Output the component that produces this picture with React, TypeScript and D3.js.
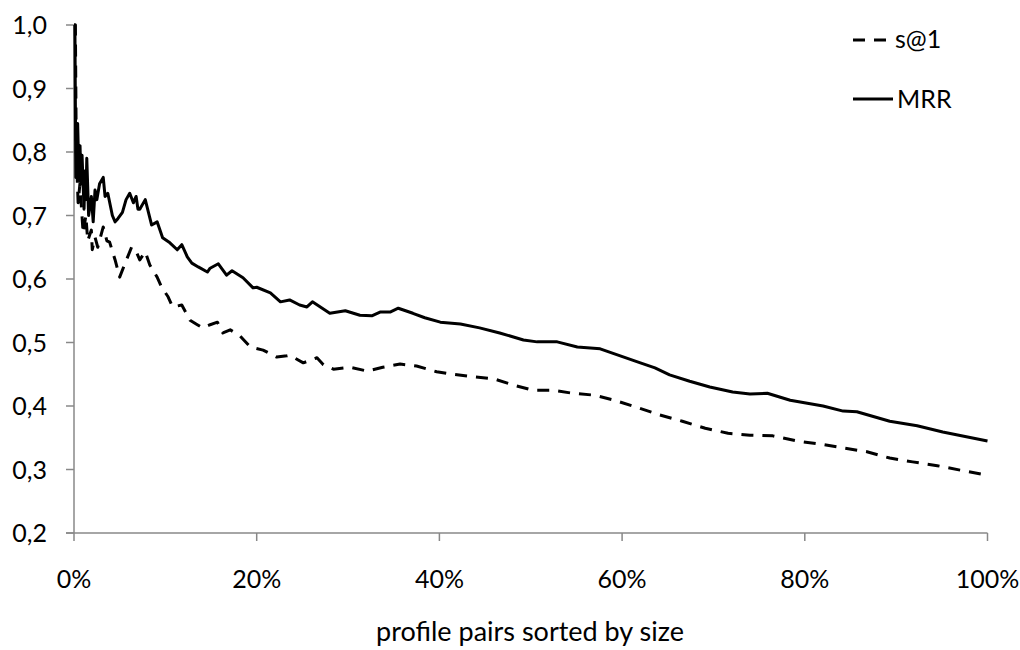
import React from "react";
import * as d3 from "d3";

const mrrX = [0, 0.1, 0.2, 0.4, 0.55, 0.66, 0.77, 0.88, 1.1, 1.2, 1.3, 1.4, 1.6, 1.9, 2.1, 2.3, 2.5, 2.8, 3.2, 3.4, 3.7, 4.2, 4.5, 4.8, 5.3, 5.7, 6.1, 6.5, 6.8, 7.0, 7.2, 7.8, 8.5, 9.1, 9.7, 10.5, 11.3, 11.8, 12.4, 12.9, 13.6, 14.6, 14.9, 15.8, 16.7, 17.3, 18.5, 19.6, 20.0, 21.5, 22.6, 23.6, 24.7, 25.5, 26.1, 28.0, 29.7, 31.3, 32.6, 33.5, 34.6, 35.5, 37.1, 38.4, 40.1, 42.3, 44.4, 46.6, 49.2, 50.7, 52.9, 55.1, 57.6, 59.8, 62.0, 63.6, 65.2, 67.4, 69.6, 72.1, 74.0, 75.9, 78.4, 82.0, 84.2, 85.7, 89.3, 92.3, 95.1, 100];
const mrrY = [1.0, 1.0, 0.76, 0.845, 0.755, 0.81, 0.75, 0.795, 0.71, 0.77, 0.725, 0.79, 0.70, 0.73, 0.69, 0.74, 0.725, 0.75, 0.76, 0.73, 0.735, 0.70, 0.69, 0.695, 0.705, 0.725, 0.735, 0.72, 0.73, 0.71, 0.71, 0.725, 0.685, 0.69, 0.665, 0.657, 0.646, 0.654, 0.635, 0.625, 0.619, 0.611, 0.617, 0.624, 0.606, 0.613, 0.602, 0.586, 0.587, 0.578, 0.564, 0.567, 0.559, 0.556, 0.564, 0.546, 0.55, 0.543, 0.542, 0.548, 0.548, 0.554, 0.546, 0.539, 0.532, 0.529, 0.523, 0.515, 0.504, 0.501, 0.501, 0.493, 0.490, 0.479, 0.468, 0.460, 0.449, 0.439, 0.430, 0.422, 0.419, 0.420, 0.409, 0.400, 0.392, 0.391, 0.376, 0.369, 0.359, 0.345];

const s1X = [0, 0.15, 0.25, 0.45, 0.65, 1.0, 1.3, 1.5, 1.9, 2.0, 2.3, 2.6, 3.2, 3.6, 3.9, 4.5, 5.0, 5.6, 6.3, 6.7, 7.2, 7.8, 8.3, 8.5, 9.1, 9.6, 10.3, 10.8, 11.8, 12.7, 13.5, 14.1, 14.9, 15.7, 16.3, 17.1, 18.2, 19.3, 20.7, 22.2, 23.3, 23.6, 25.1, 26.6, 27.3, 28.4, 30.2, 32.1, 33.8, 35.7, 37.5, 39.7, 41.5, 43.7, 45.9, 48.1, 50.2, 52.4, 54.6, 57.0, 59.2, 61.6, 64.1, 66.6, 69.1, 71.6, 74.0, 76.5, 79.1, 81.7, 84.2, 86.8, 89.3, 91.8, 94.5, 97.0, 100];
const s1Y = [1.0, 1.0, 0.80, 0.72, 0.75, 0.672, 0.70, 0.66, 0.677, 0.646, 0.666, 0.65, 0.682, 0.66, 0.658, 0.63, 0.603, 0.625, 0.65, 0.647, 0.63, 0.643, 0.622, 0.617, 0.603, 0.587, 0.572, 0.556, 0.559, 0.535, 0.528, 0.523, 0.528, 0.532, 0.515, 0.52, 0.51, 0.493, 0.488, 0.477, 0.479, 0.480, 0.468, 0.476, 0.465, 0.458, 0.461, 0.455, 0.461, 0.466, 0.463, 0.454, 0.450, 0.446, 0.443, 0.433, 0.425, 0.425, 0.420, 0.417, 0.409, 0.398, 0.386, 0.376, 0.365, 0.357, 0.354, 0.353, 0.345, 0.340, 0.334, 0.328, 0.318, 0.312, 0.306, 0.299, 0.291];

const yTicks = [0.2, 0.3, 0.4, 0.5, 0.6, 0.7, 0.8, 0.9, 1.0];
const xTicks = [0, 20, 40, 60, 80, 100];
const xTitle = "profile pairs sorted by size";
const seriesNames = ["s@1", "MRR"];

const FONT = "Lato, 'Open Sans', sans-serif";
const AXIS = "#888888";

export default function App() {
  const x = d3.scaleLinear().domain([0, 100]).range([74, 987.5]);
  const y = d3.scaleLinear().domain([0.2, 1.0]).range([533, 25]);
  const line = d3
    .line<[number, number]>()
    .x((d) => x(d[0]))
    .y((d) => y(d[1]));
  const mrr = mrrX.map((v, i) => [v, mrrY[i]] as [number, number]);
  const s1 = s1X.map((v, i) => [v, s1Y[i]] as [number, number]);

  return (
    <svg
      width={1020}
      height={650}
      style={{ position: "absolute", left: 0, top: 0, background: "#fff" }}
      fontFamily={FONT}
    >
      <rect x={0} y={0} width={1020} height={650} fill="#fff" />
      {/* y axis */}
      <line x1={74} x2={74} y1={y(1.0)} y2={y(0.2)} stroke={AXIS} strokeWidth={1.5} />
      {yTicks.map((t) => (
        <g key={"y" + t}>
          <line x1={66} x2={74} y1={y(t)} y2={y(t)} stroke={AXIS} strokeWidth={1.5} />
          <text
            x={47}
            y={y(t)}
            dy="0.36em"
            textAnchor="end"
            fontSize={25}
            fill="#000"
          >
            {t.toFixed(1).replace(".", ",")}
          </text>
        </g>
      ))}
      {/* x axis */}
      <line x1={66} x2={x(100)} y1={533} y2={533} stroke={AXIS} strokeWidth={1.5} />
      {xTicks.map((t) => (
        <g key={"x" + t}>
          <line x1={x(t)} x2={x(t)} y1={533} y2={541} stroke={AXIS} strokeWidth={1.5} />
          <text x={x(t)} y={588} textAnchor="middle" fontSize={25} fill="#000">
            {t + "%"}
          </text>
        </g>
      ))}
      <text x={530} y={641} textAnchor="middle" fontSize={27} fill="#000">
        {xTitle}
      </text>
      {/* series */}
      <path d={line(mrr) || ""} fill="none" stroke="#000" strokeWidth={3} strokeLinejoin="round" />
      <path
        d={line(s1) || ""}
        fill="none"
        stroke="#000"
        strokeWidth={3}
        strokeDasharray="12,9"
        strokeLinejoin="round"
      />
      {/* legend */}
      <line x1={853} x2={893} y1={40} y2={40} stroke="#000" strokeWidth={3} strokeDasharray="12,9" />
      <text x={895} y={48} fontSize={25} fill="#000">
        {seriesNames[0]}
      </text>
      <line x1={853} x2={893} y1={99} y2={99} stroke="#000" strokeWidth={3} />
      <text x={897} y={108} fontSize={25} fill="#000">
        {seriesNames[1]}
      </text>
    </svg>
  );
}
